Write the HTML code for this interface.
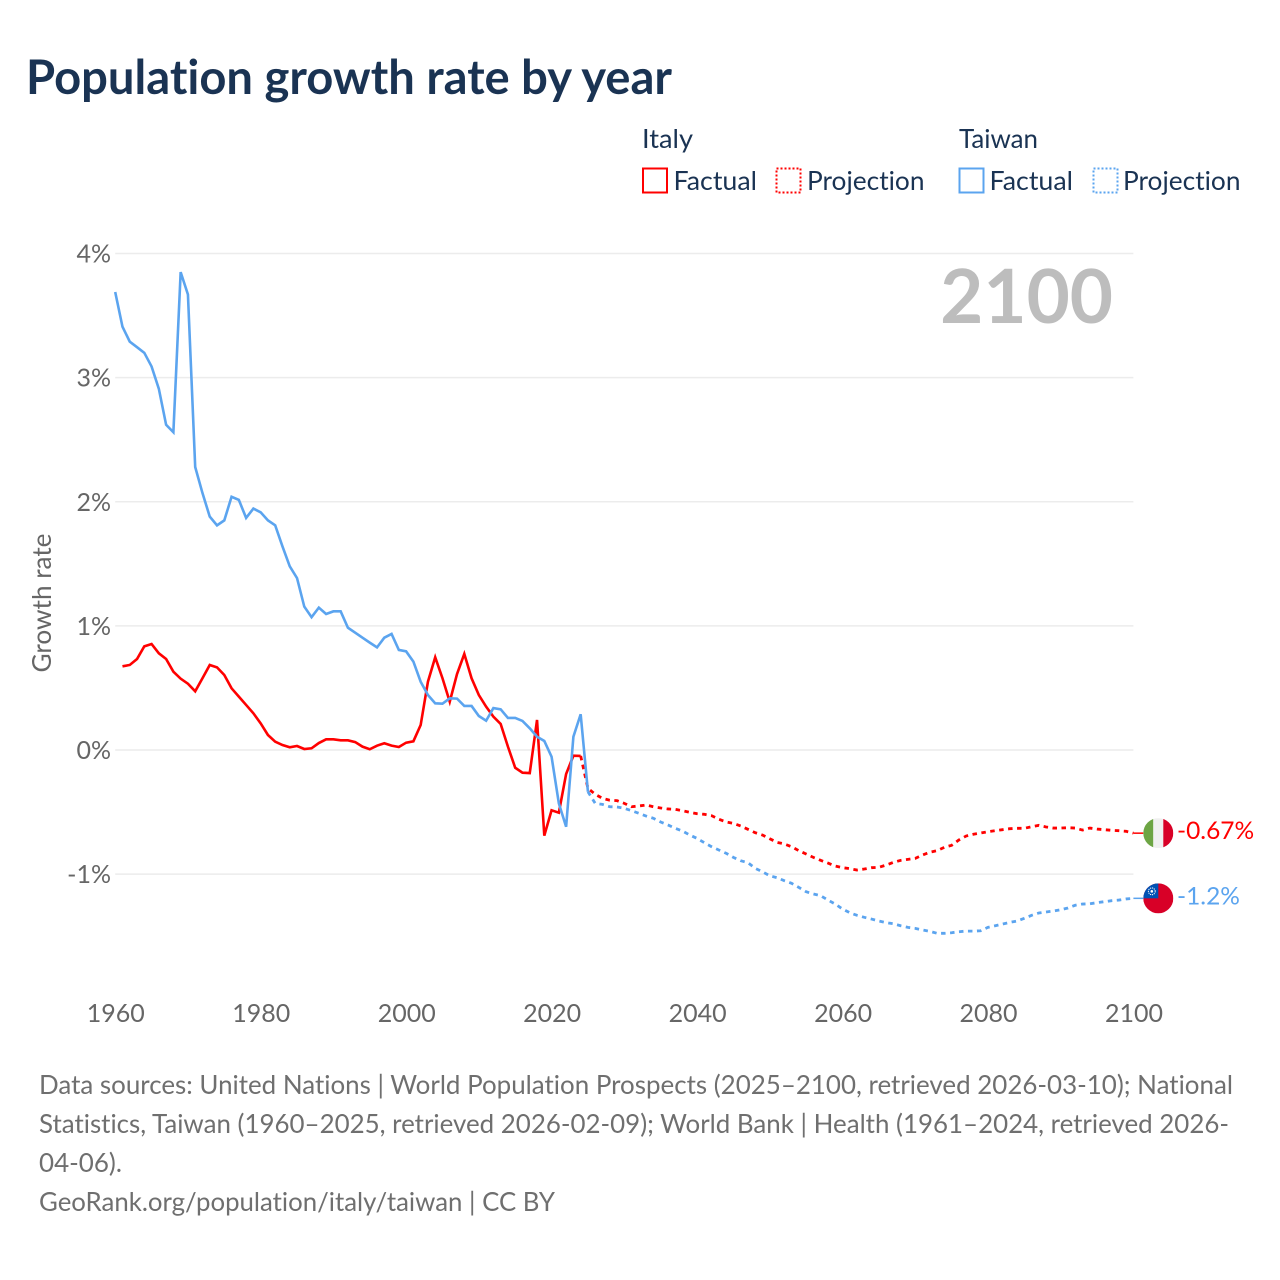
<!DOCTYPE html>
<html lang="en">
<head>
<meta charset="utf-8">
<title>Population growth rate by year</title>
<style>
html,body{margin:0;padding:0;background:#fff;}
body{width:1280px;height:1280px;overflow:hidden;}
svg{display:block;}
text{font-family:Lato,Carlito,"Liberation Sans",sans-serif;font-variant-ligatures:none;font-feature-settings:"liga" 0;}
</style>
</head>
<body>
<svg id="chart" width="1280" height="1280" viewBox="0 0 1280 1280" xmlns="http://www.w3.org/2000/svg">
  <text x="26" y="94" font-size="47.5" font-weight="700" fill="#1a3353" textLength="646" lengthAdjust="spacingAndGlyphs">Population growth rate by year</text>

  <g font-size="26" fill="#1a3353">
    <text x="642" y="148" textLength="51" lengthAdjust="spacingAndGlyphs">Italy</text>
    <rect x="643" y="168.5" width="24" height="24" fill="none" stroke="#ff0000" stroke-width="2"/>
    <text x="673.5" y="190" textLength="83.5" lengthAdjust="spacingAndGlyphs">Factual</text>
    <rect x="776.5" y="168.5" width="24" height="24" fill="none" stroke="#ff0000" stroke-width="2" stroke-dasharray="2 2"/>
    <text x="807" y="190" textLength="117.5" lengthAdjust="spacingAndGlyphs">Projection</text>
    <text x="959" y="148" textLength="79" lengthAdjust="spacingAndGlyphs">Taiwan</text>
    <rect x="959.5" y="168.5" width="24" height="24" fill="none" stroke="#5ba4ef" stroke-width="2"/>
    <text x="989.5" y="190" textLength="83.5" lengthAdjust="spacingAndGlyphs">Factual</text>
    <rect x="1093.5" y="168.5" width="24" height="24" fill="none" stroke="#5ba4ef" stroke-width="2" stroke-dasharray="2 2"/>
    <text x="1123" y="190" textLength="117.5" lengthAdjust="spacingAndGlyphs">Projection</text>
  </g>

  <g id="grid"></g>
  <text x="1113" y="323" text-anchor="end" font-size="74.5" font-weight="700" fill="#bdbdbd">2100</text>
  <text transform="translate(51,603) rotate(-90)" text-anchor="middle" font-size="26" fill="#666666" textLength="139" lengthAdjust="spacingAndGlyphs">Growth rate</text>
  <g id="yticks"></g>
  <g id="xticks"></g>
  <g id="series"></g>
  <g id="ends"></g>

  <g font-size="26" fill="#6f6f6f">
    <text x="39" y="1094" textLength="1194" lengthAdjust="spacingAndGlyphs">Data sources: United Nations | World Population Prospects (2025–2100, retrieved 2026-03-10); National</text>
    <text x="39" y="1133" textLength="1190" lengthAdjust="spacingAndGlyphs">Statistics, Taiwan (1960–2025, retrieved 2026-02-09); World Bank | Health (1961–2024, retrieved 2026-</text>
    <text x="39" y="1172" textLength="83" lengthAdjust="spacingAndGlyphs">04-06).</text>
    <text x="39" y="1211" textLength="516" lengthAdjust="spacingAndGlyphs">GeoRank.org/population/italy/taiwan | CC BY</text>
  </g>
</svg>

<script>
const yTicks = [4, 3, 2, 1, 0, -1];
const yTickLabels = ['4%', '3%', '2%', '1%', '0%', '-1%'];
const xTicks = [1960, 1980, 2000, 2020, 2040, 2060, 2080, 2100];

const italyFactualStart = 1961;
const italyFactual = [0.674,0.685,0.733,0.835,0.854,0.779,0.733,0.631,0.575,0.534,0.473,0.578,0.685,0.666,0.604,0.497,0.43,0.363,0.296,0.215,0.121,0.067,0.04,0.022,0.032,0.008,0.014,0.056,0.086,0.086,0.078,0.078,0.064,0.027,0.006,0.035,0.054,0.035,0.024,0.059,0.07,0.201,0.55,0.747,0.578,0.389,0.612,0.774,0.578,0.443,0.349,0.269,0.21,0.027,-0.143,-0.183,-0.186,0.242,-0.69,-0.486,-0.505,-0.193,-0.046,-0.048];

const italyProjectionStart = 2024;
const italyProjection = [-0.048,-0.309,-0.357,-0.389,-0.405,-0.408,-0.43,-0.457,-0.451,-0.443,-0.457,-0.467,-0.475,-0.478,-0.489,-0.502,-0.513,-0.518,-0.529,-0.558,-0.58,-0.591,-0.612,-0.639,-0.666,-0.685,-0.715,-0.744,-0.757,-0.779,-0.811,-0.838,-0.865,-0.889,-0.911,-0.935,-0.948,-0.956,-0.967,-0.959,-0.948,-0.945,-0.927,-0.905,-0.889,-0.881,-0.873,-0.846,-0.824,-0.811,-0.784,-0.768,-0.725,-0.693,-0.679,-0.669,-0.658,-0.65,-0.642,-0.634,-0.631,-0.631,-0.618,-0.607,-0.62,-0.629,-0.629,-0.626,-0.629,-0.645,-0.629,-0.637,-0.642,-0.647,-0.65,-0.655,-0.67];

const taiwanFactualStart = 1960;
const taiwanFactual = [3.69,3.41,3.29,3.245,3.2,3.09,2.91,2.62,2.56,3.85,3.67,2.28,2.07,1.88,1.81,1.85,2.04,2.015,1.87,1.945,1.915,1.85,1.81,1.64,1.48,1.385,1.155,1.07,1.147,1.096,1.117,1.117,0.985,0.945,0.905,0.865,0.827,0.905,0.935,0.806,0.795,0.712,0.55,0.443,0.376,0.373,0.416,0.414,0.355,0.355,0.274,0.236,0.338,0.328,0.258,0.258,0.234,0.175,0.107,0.073,-0.054,-0.43,-0.618,0.107,0.288,-0.336];

const taiwanProjectionStart = 2025;
const taiwanProjection = [-0.336,-0.43,-0.438,-0.457,-0.459,-0.47,-0.489,-0.51,-0.532,-0.55,-0.58,-0.604,-0.631,-0.653,-0.685,-0.712,-0.747,-0.779,-0.806,-0.832,-0.865,-0.892,-0.908,-0.953,-0.981,-1.013,-1.029,-1.053,-1.074,-1.107,-1.142,-1.16,-1.174,-1.209,-1.241,-1.281,-1.311,-1.332,-1.348,-1.362,-1.378,-1.391,-1.4,-1.416,-1.429,-1.437,-1.45,-1.461,-1.477,-1.477,-1.472,-1.464,-1.459,-1.459,-1.456,-1.429,-1.416,-1.402,-1.389,-1.378,-1.356,-1.332,-1.313,-1.305,-1.297,-1.287,-1.273,-1.251,-1.241,-1.239,-1.23,-1.222,-1.214,-1.209,-1.2,-1.195];

const endLabels = ['-0.67%', '-1.2%'];

const NS = 'http://www.w3.org/2000/svg';
const X0 = 115.2, X1 = 1133.4, Y4 = 253.5, Y0 = 750;
function xScale(year) { return X0 + (year - 1960) * (X1 - X0) / 140; }
function yScale(v) { return Y0 - v * (Y0 - Y4) / 4; }
function mk(tag, attrs, parent) {
  const el = document.createElementNS(NS, tag);
  for (const k in attrs) el.setAttribute(k, attrs[k]);
  parent.appendChild(el);
  return el;
}

const grid = document.getElementById('grid');
const yticks = document.getElementById('yticks');
const xticks = document.getElementById('xticks');
const seriesG = document.getElementById('series');
const ends = document.getElementById('ends');

yTicks.forEach(function (t, i) {
  const line = mk('line', {x1: X0, x2: X1, y1: yScale(t), y2: yScale(t), stroke: '#ececec', 'stroke-width': 1.5}, grid);
  
  
  const label = mk('text', {x: 111, y: yScale(t) + 9, 'text-anchor': 'end', 'font-size': 25, fill: '#666666'}, yticks);
  
  
  label.textContent = yTickLabels[i];
});

xTicks.forEach(function (t) {
  const label = mk('text', {x: xScale(t) + 0.6, y: 1022, 'text-anchor': 'middle', 'font-size': 25, fill: '#666666'}, xticks);
  
  
  label.textContent = t;
});

function drawLine(values, start, color, dashed) {
  const pts = values.map(function (v, i) { return xScale(start + i).toFixed(2) + ',' + yScale(v).toFixed(2); }).join(' ');
  const attrs = {points: pts, fill: 'none', stroke: color, 'stroke-width': dashed ? 2.8 : 2.6, 'stroke-linejoin': 'miter'};
  if (dashed) attrs['stroke-dasharray'] = '4.5 4.5';
  return mk('polyline', attrs, seriesG);
}

const RED = '#ff0000', BLUE = '#5ba4ef';

const taiwanProjLine = drawLine(taiwanProjection, taiwanProjectionStart, BLUE, true);


const italyProjLine = drawLine(italyProjection, italyProjectionStart, RED, true);


const italyLine = drawLine(italyFactual, italyFactualStart, RED, false);


const taiwanLine = drawLine(taiwanFactual, taiwanFactualStart, BLUE, false);



const FX = 1158.3, FR = 15;
const italyEndY = yScale(italyProjection[italyProjection.length - 1]);
const taiwanEndY = yScale(taiwanProjection[taiwanProjection.length - 1]);

const italyConnector = mk('line', {x1: X1, x2: FX - FR, y1: italyEndY, y2: italyEndY, stroke: RED, 'stroke-width': 1.5}, ends);


const taiwanConnector = mk('line', {x1: X1, x2: FX - FR, y1: taiwanEndY, y2: taiwanEndY, stroke: BLUE, 'stroke-width': 1.5}, ends);



const italyFlag = mk('g', {transform: 'translate(' + FX + ',' + italyEndY + ')'}, ends);


mk('clipPath', {id: 'clip-it'}, italyFlag).appendChild(document.createElementNS(NS, 'circle')).setAttribute('r', FR);
const itBands = mk('g', {'clip-path': 'url(#clip-it)'}, italyFlag);
mk('rect', {x: -15, y: -15, width: 10, height: 30, fill: '#6da544'}, itBands);
mk('rect', {x: -5, y: -15, width: 10, height: 30, fill: '#f0f0f0'}, itBands);
mk('rect', {x: 5, y: -15, width: 10, height: 30, fill: '#d80027'}, itBands);

const taiwanFlag = mk('g', {transform: 'translate(' + FX + ',' + taiwanEndY + ')'}, ends);


mk('clipPath', {id: 'clip-tw'}, taiwanFlag).appendChild(document.createElementNS(NS, 'circle')).setAttribute('r', FR);
const twBands = mk('g', {'clip-path': 'url(#clip-tw)'}, taiwanFlag);
mk('rect', {x: -15, y: -15, width: 30, height: 30, fill: '#d80027'}, twBands);
mk('rect', {x: -15, y: -15, width: 15, height: 15, fill: '#0052b4'}, twBands);
mk('circle', {cx: -6.5, cy: -7, r: 3.4, fill: 'none', stroke: '#ffffff', 'stroke-width': 1, 'stroke-dasharray': '1.2 0.8'}, twBands);
mk('circle', {cx: -6.5, cy: -7, r: 1.3, fill: '#ffffff'}, twBands);

const italyLabel = mk('text', {x: 1177, y: italyEndY + 6, 'font-size': 24.5, fill: RED}, ends);


italyLabel.textContent = endLabels[0];
const taiwanLabel = mk('text', {x: 1177, y: taiwanEndY + 6, 'font-size': 24.5, fill: BLUE}, ends);


taiwanLabel.textContent = endLabels[1];
</script>
</body>
</html>
